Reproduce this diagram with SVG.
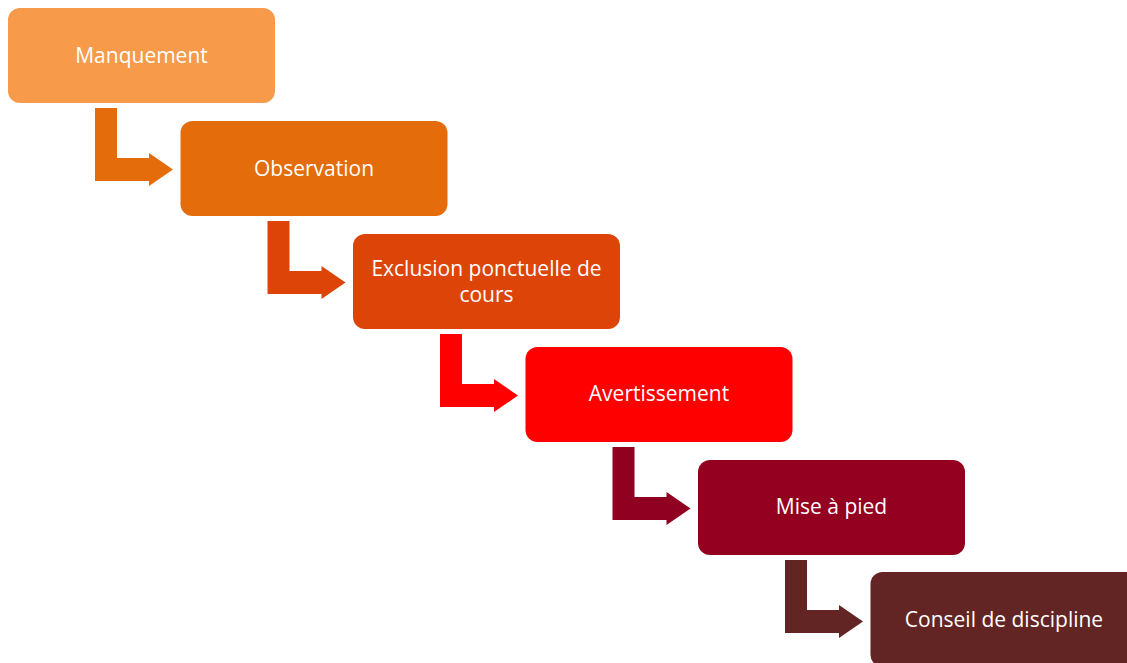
<svg xmlns="http://www.w3.org/2000/svg" width="1127" height="663" viewBox="0 0 1127 663">
<style>
text{font-family:"Open Sans","Liberation Sans",sans-serif;font-size:21px;fill:#fff;text-anchor:middle}
</style>
<defs>
<path id="arr" d="M0,0 H22 V50 H54 V45 L78,61.5 L54,78 V73 H0 Z"/>
</defs>
<rect width="1127" height="663" fill="#fff"/>
<g id="connectors">
<use href="#arr" x="95" y="108" fill="#E46C0A"/>
<use href="#arr" x="267.5" y="221" fill="#DD4408"/>
<use href="#arr" x="440" y="334" fill="#FF0000"/>
<use href="#arr" x="612.5" y="447" fill="#900020"/>
<use href="#arr" x="785" y="560" fill="#632523"/>
</g>
<g id="n1"><rect x="8" y="8" width="267" height="95" rx="12" fill="#F79A4A"/><text x="141.5" y="63">Manquement</text></g>
<g id="n2"><rect x="180.5" y="121" width="267" height="95" rx="12" fill="#E46C0A"/><text x="314" y="176">Observation</text></g>
<g id="n3"><rect x="353" y="234" width="267" height="95" rx="12" fill="#DD4408"/><text x="486.5" y="276">Exclusion ponctuelle de</text><text x="486.5" y="302">cours</text></g>
<g id="n4"><rect x="525.5" y="347" width="267" height="95" rx="12" fill="#FF0000"/><text x="659" y="401">Avertissement</text></g>
<g id="n5"><rect x="698" y="460" width="267" height="95" rx="12" fill="#940020"/><text x="831.5" y="514">Mise à pied</text></g>
<g id="n6"><rect x="870.5" y="572" width="267" height="95" rx="12" fill="#632523"/><text x="1004" y="627">Conseil de discipline</text></g>
</svg>
